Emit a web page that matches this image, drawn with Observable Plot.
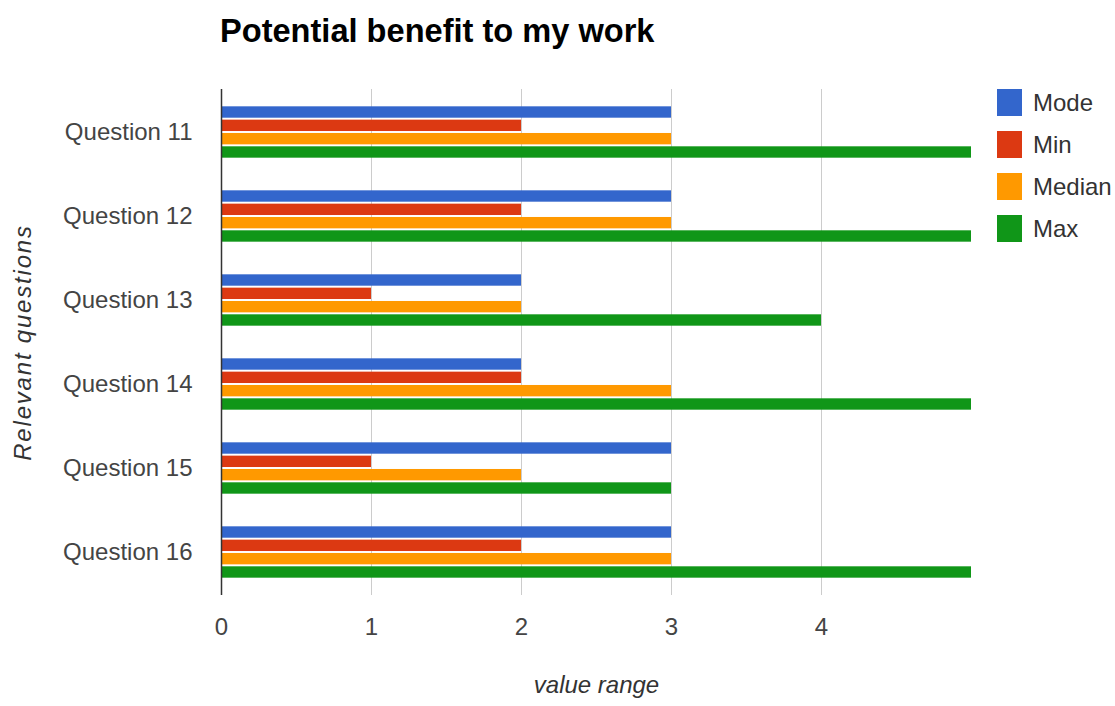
<!DOCTYPE html>
<html>
<head>
<meta charset="utf-8">
<script src="https://cdn.jsdelivr.net/npm/d3@7"></script>
<script src="https://cdn.jsdelivr.net/npm/@observablehq/plot@0.6"></script>
<style>
  body { margin: 0; background: #fff; font-family: "Liberation Sans", Arial, sans-serif; }
  #chart { position: relative; width: 1115px; height: 706px; overflow: hidden; }
  #title { position: absolute; left: 220px; top: 15px; font-size: 32.6px; font-weight: bold; line-height: 32px; color: #000; white-space: nowrap; }
  #plot { position: absolute; left: 0; top: 60px; }
  #plot text[transform*="rotate"] { letter-spacing: 1.8px; }
  #legend { position: absolute; left: 997px; top: 89px; }
  .item { display: flex; align-items: center; height: 27px; margin-bottom: 15px; font-size: 24px; color: #333; white-space: nowrap; }
  .sw { width: 25px; height: 27px; margin-right: 11px; flex: none; }
</style>
</head>
<body>
<div id="chart">
  <div id="title">Potential benefit to my work</div>
  <div id="plot"></div>
  <div id="legend"></div>
</div>
<script>
// Survey summary statistics per question
const questions = ["Question 11", "Question 12", "Question 13", "Question 14", "Question 15", "Question 16"];
const series = ["Mode", "Min", "Median", "Max"];
const colors = ["#3366cc", "#dc3912", "#ff9900", "#109618"];
const modeValues = [3, 3, 2, 2, 3, 3];
const minValues = [2, 2, 1, 2, 1, 2];
const medianValues = [3, 3, 2, 3, 2, 3];
const maxValues = [5, 5, 4, 5, 3, 5];
const xTicks = [0, 1, 2, 3, 4];
const xLabel = "value range";
const yLabel = "Relevant questions";

const seriesValues = [modeValues, minValues, medianValues, maxValues];
const rows = questions.flatMap((q, i) =>
  series.map((s, j) => ({question: q, series: s, value: seriesValues[j][i]}))
);

// Each question band holds four thin bars stacked top to bottom
const bandH = 84.33, barH = 11.7, barStep = 13.33;
const groupTop = (bandH - (barStep * 3 + barH)) / 2;

const chart = Plot.plot({
  width: 1115,
  height: 646,
  marginTop: 29,
  marginBottom: 111,
  marginLeft: 221,
  marginRight: 144,
  style: {fontFamily: "'Liberation Sans', Arial, sans-serif", fontSize: "24px", color: "#444", background: "transparent"},
  x: {domain: [0, 5], ticks: xTicks, tickFormat: d3.format("d"), tickSize: 0, tickPadding: 22, label: null},
  y: {domain: questions, padding: 0, tickSize: 0, tickPadding: 29, label: null},
  color: {domain: series, range: colors},
  marks: [
    Plot.ruleX(xTicks.slice(1), {stroke: "#cccccc", strokeWidth: 1}),
    ...series.map((s, j) => {
      const top = groupTop + j * barStep;
      return Plot.barX(rows.filter(d => d.series === s), {
        x: "value",
        y: "question",
        fill: "series",
        insetTop: top,
        insetBottom: bandH - top - barH
      });
    }),
    Plot.ruleX([0], {stroke: "#333333", strokeWidth: 1.5}),
    Plot.text([xLabel], {frameAnchor: "bottom", dy: 97, fontSize: 24, fontStyle: "italic", fill: "#333"}),
    Plot.text([yLabel], {frameAnchor: "left", dx: -198, rotate: -90, textAnchor: "middle", fontSize: 24, fontStyle: "italic", fill: "#333"})
  ]
});
document.getElementById("plot").appendChild(chart);

// Legend on the right
const legend = document.getElementById("legend");
series.forEach((s, j) => {
  const item = document.createElement("div");
  item.className = "item";
  const sw = document.createElement("div");
  sw.className = "sw";
  sw.style.background = colors[j];
  const label = document.createElement("span");
  label.textContent = s;
  item.appendChild(sw);
  item.appendChild(label);
  legend.appendChild(item);
});
</script>
</body>
</html>
